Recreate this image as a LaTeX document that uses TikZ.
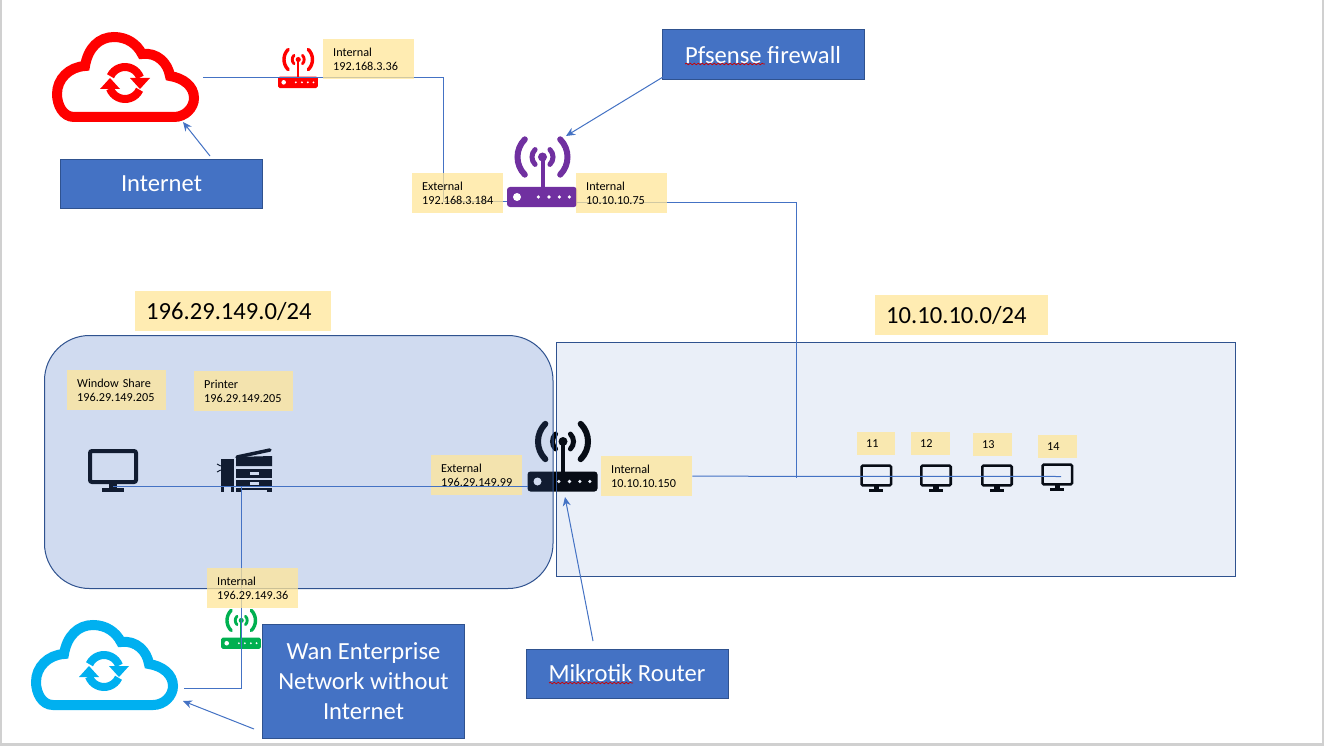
\documentclass[tikz,border=0pt]{standalone}
\usepackage{fontspec}
\setmainfont{Carlito}
\usetikzlibrary{arrows.meta,decorations.pathmorphing}
\definecolor{linkB}{RGB}{68,114,196}
\definecolor{edgeB}{RGB}{47,82,143}
\definecolor{tagY}{RGB}{255,230,153}
\definecolor{wanC}{RGB}{0,176,240}
\definecolor{fwP}{RGB}{112,48,160}
\definecolor{lanG}{RGB}{0,176,80}
\definecolor{frameG}{RGB}{208,208,208}
\tikzset{
  pics/cloudicon/.style={code={
    \draw[#1, line width=10pt, fill=white] (22,85) .. controls (11,85) and (5,73) .. (5,62)
      .. controls (5,47) and (17,35) .. (33,34) .. controls (36,16) and (47,5) .. (62,5)
      .. controls (75,5) and (85,12) .. (90,22) .. controls (105,20) and (116,31) .. (118,44)
      .. controls (131,46) and (142,54) .. (142,66) .. controls (142,76) and (133,85) .. (122,85) -- cycle;
    \draw[#1, line width=8pt] (73,51) ++(160:16) arc[start angle=160, end angle=25, radius=16];
    \draw[#1, line width=8pt] (73,51) ++(-20:16) arc[start angle=-20, end angle=-155, radius=16];
    \fill[#1] (78,46) -- (98,46) -- (88,57) -- cycle;
    \fill[#1] (48,57) -- (68,57) -- (58,46) -- cycle;
  }},
  pics/routericon/.style 2 args={code={
    \begin{scope}[scale=#2]
      \fill[#1, rounded corners=3pt*#2] (0,49) rectangle (70,69);
      \fill[white] (10,59) circle (4);
      \foreach \dx in {31.3,42,52.3,62.3} \fill[white] (\dx,59) circle (1.8);
      \draw[#1, line width=4pt*#2] (35.5,19) -- (35.5,50);
      \fill[#1] (35.5,19) circle (4.5);
      \draw[#1, line width=5pt*#2, line cap=round] (35.5,19) ++(135:10.5) arc[start angle=135, end angle=225, radius=10.5];
      \draw[#1, line width=5pt*#2, line cap=round] (35.5,19) ++(45:10.5) arc[start angle=45, end angle=-45, radius=10.5];
      \draw[#1, line width=6pt*#2, line cap=round] (35.5,19) ++(135:25) arc[start angle=135, end angle=225, radius=25];
      \draw[#1, line width=6pt*#2, line cap=round] (35.5,19) ++(45:25) arc[start angle=45, end angle=-45, radius=25];
    \end{scope}
  }},
  pics/screenicon/.style={code={
    \begin{scope}[scale=#1]
      \draw[black, line width=4pt*#1, rounded corners=2pt*#1] (2,2) rectangle (48,33);
      \fill[black] (21,33) rectangle (29,40);
      \fill[black] (14,39) rectangle (36,43);
    \end{scope}
  }},
  pics/printericon/.style={code={
    \fill[black] (3.7,10.7) rectangle (16.7,38);
    \fill[black] (3.7,39) rectangle (6.5,44);
    \fill[black] (13.5,39) rectangle (16.7,44);
    \draw[black, line width=1pt] (0,16) -- (3.7,18);
    \draw[black, line width=1pt] (0,24) -- (3.7,22);
    \draw[black, line width=3.5pt, line cap=round] (20,9) -- (53,2);
    \fill[black] (19,9) -- (55,8) -- (55,18) -- (19,18) -- cycle;
    \fill[black] (19,21) rectangle (55,30);
    \fill[white] (33,24) rectangle (42,27);
    \fill[black] (19,32) rectangle (55,38.5);
    \fill[white] (33,34) rectangle (42,36.5);
    \fill[black] (19,39.5) rectangle (55,44);
    \fill[white] (24,41.5) rectangle (50,44);
  }}
}
\begin{document}
\begin{tikzpicture}[x=1pt, y=-1pt, >={Stealth[length=9pt,width=8pt]},
  link/.style={draw=linkB, line width=1pt},
  note/.style={link, ->},
  blueb/.style={rectangle, draw=edgeB, fill=linkB, line width=1pt, text=white, align=center, inner sep=0pt, font=\fontsize{24.6}{30}\selectfont},
  tag/.style={rectangle, fill=tagY, fill opacity=.75, text opacity=1, anchor=north west, align=left, inner xsep=10pt, inner ysep=0pt, minimum height=40pt, text width=#1, font=\fontsize{12.2}{14}\selectfont},
  tag/.default=71pt,
  bigtag/.style={tag=#1, inner xsep=11pt, font=\fontsize{24.6}{28}\selectfont},
  numtag/.style={tag=#1, inner xsep=9pt, minimum height=23pt}]
  \useasboundingbox (0,0) rectangle (1324,746);
  \fill[frameG] (0,0) rectangle (1324,746);
  \fill[white] (1.5,0) rectangle (1321.5,743);

  \pic at (527.5,422.5) {routericon={black}{1}};
  \pic at (88,449) {screenicon=1};
  \pic at (217,448) {printericon};
  \pic at (860.3,464.3) {screenicon=.64};
  \pic at (920,464.3) {screenicon=.64};
  \pic at (981,464.3) {screenicon=.64};
  \pic at (1041.3,463.3) {screenicon=.64};

  \node[rectangle, draw=edgeB, fill=linkB, fill opacity=.25, draw opacity=1, line width=1pt, rounded corners=45pt, minimum width=508.5pt, minimum height=253pt, anchor=north west, inner sep=0pt] (lanLeft) at (44,335) {};
  \node[rectangle, draw=edgeB, fill=linkB, fill opacity=.11, draw opacity=1, line width=1pt, minimum width=678.5pt, minimum height=234pt, anchor=north west, inner sep=0pt] (lanRight) at (556,342) {};

  \pic at (52,32) {cloudicon=red};
  \pic at (31,620) {cloudicon=wanC};
  \pic at (278,48.7) {routericon={red}{.57}};
  \pic at (507,138) {routericon={fwP}{1}};
  \pic at (221,609.6) {routericon={lanG}{.57}};

  \coordinate (cloudRed) at (203,77.5);
  \coordinate (cloudWan) at (184,688);
  \coordinate (fwLeft) at (507,201);
  \coordinate (fwRight) at (577,202);
  \coordinate (screenLeft) at (113,486);
  \coordinate (mikLeft) at (528,486);
  \coordinate (screenLast) at (1061,476.5);
  \coordinate (lanJoin) at (796,478);
  \coordinate (printerDrop) at (241,486);

  \draw[link] (cloudRed) -- (443,77.5) -- (443,201) -- (fwLeft);
  \draw[link] (fwRight) -- (796,202) -- (lanJoin);
  \draw[link] (printerDrop) -- (241,688) -- (cloudWan);

  \node[tag] (intRed) at (323,39) {Internal\\192.168.3.36};
  \node[tag] (extFw) at (412,173) {External\\192.168.3.184};
  \node[tag] (intFw) at (576,173) {Internal\\10.10.10.75};
  \node[bigtag=174pt] (netLeft) at (135,291) {196.29.149.0/24};
  \node[bigtag=151pt] (netRight) at (875,295) {10.10.10.0/24};
  \node[tag=79pt] (shareTag) at (67,370) {Window Share\\196.29.149.205};
  \node[tag=79pt] (printerTag) at (194,371) {Printer\\196.29.149.205};
  \node[tag] (extMik) at (431,455) {External\\196.29.149.99};
  \node[tag] (intMik) at (601,456) {Internal\\10.10.10.150};
  \node[tag] (intWan) at (207,568) {Internal\\196.29.149.36};
  \node[numtag=20pt] (tagOne) at (857,432) {11};
  \node[numtag=21pt] (tagTwo) at (911,432) {12};
  \node[numtag=21pt] (tagThree) at (973,433) {13};
  \node[numtag=21pt] (tagFour) at (1038,435) {14};

  \draw[link] (screenLeft) -- (mikLeft);
  \draw[link] (intMik.east) -- (screenLast);

  \node[blueb, minimum width=202pt, minimum height=49pt] (internetBox) at (161.5,184) {Internet};
  \node[blueb, minimum width=202pt, minimum height=50pt] (fwBox) at (763,55) {Pfsense firewall};
  \node[blueb, minimum width=202pt, minimum height=114pt] (wanBox) at (363.5,681) {Wan Enterprise\\Network without\\Internet};
  \node[blueb, minimum width=202pt, minimum height=49pt] (mikBox) at (627,673.5) {Mikrotik Router};

  \draw[red!80!black, line width=.7pt, decorate, decoration={snake, amplitude=.8pt, segment length=4pt}] (685,64) -- (765,64);
  \draw[red!80!black, line width=.7pt, decorate, decoration={snake, amplitude=.8pt, segment length=4pt}] (549,683) -- (633,683);

  \coordinate (internetTail) at (210,156);
  \coordinate (internetTip) at (183,122);
  \coordinate (fwTail) at (663,77);
  \coordinate (fwTip) at (566,136);
  \coordinate (mikTail) at (593,641);
  \coordinate (mikTip) at (565,497);
  \coordinate (wanTail) at (254,729);
  \coordinate (wanTip) at (183,701);
  \draw[note] (internetTail) -- (internetTip);
  \draw[note] (fwTail) -- (fwTip);
  \draw[note] (mikTail) -- (mikTip);
  \draw[note] (wanTail) -- (wanTip);
\end{tikzpicture}
\end{document}
